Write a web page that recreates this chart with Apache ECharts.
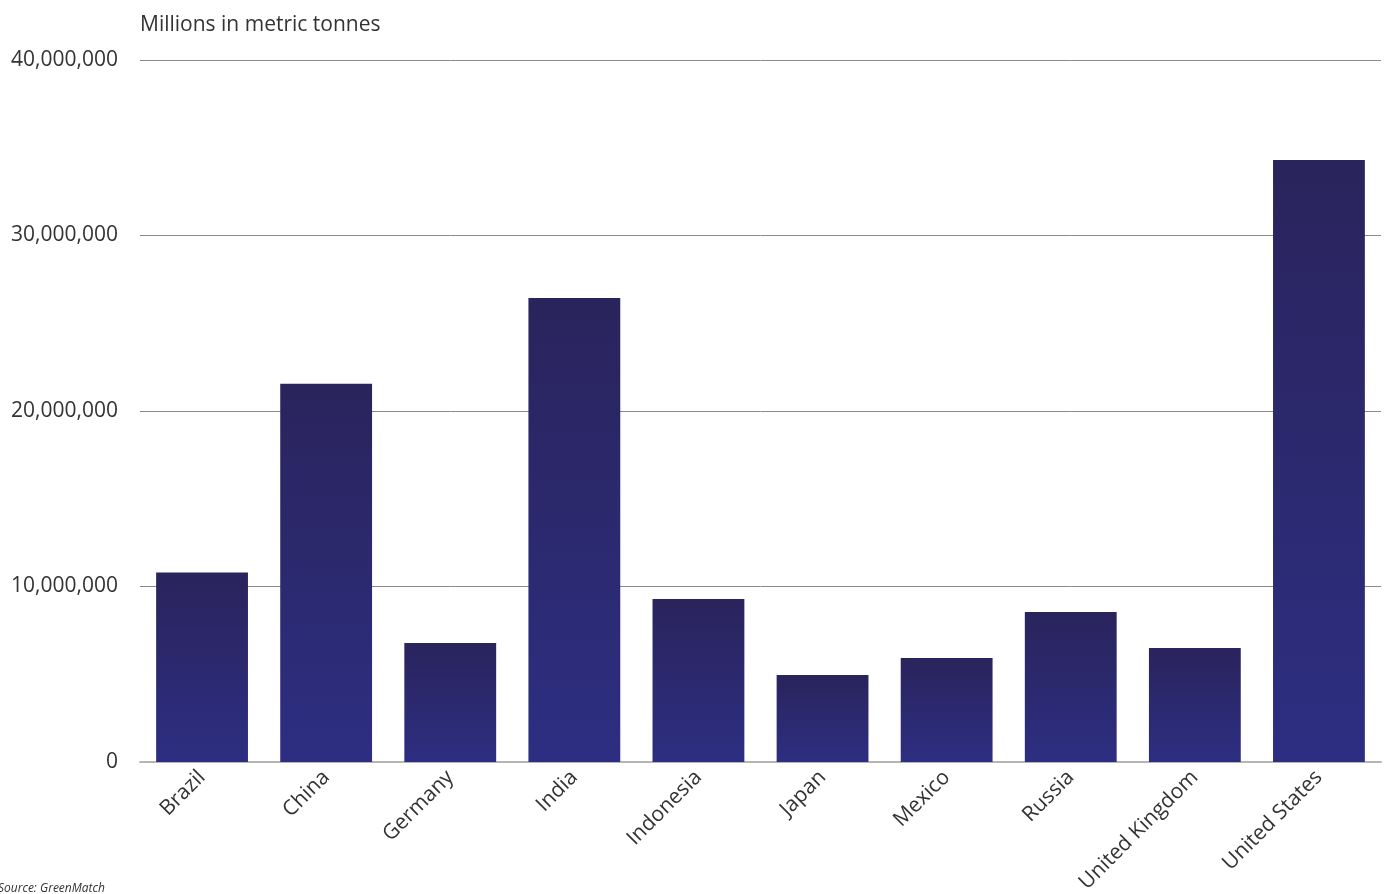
<!DOCTYPE html>
<html>
<head>
<meta charset="utf-8">
<script src="https://cdn.jsdelivr.net/npm/echarts@6/dist/echarts.min.js"></script>
<style>
html,body{margin:0;padding:0;background:#fff;}
#chart{width:1391px;height:894px;}
</style>
</head>
<body>
<div id="chart"></div>
<script>
const categories = ["Brazil","China","Germany","India","Indonesia","Japan","Mexico","Russia","United Kingdom","United States"];
const values = [10800000, 21550000, 6780000, 26440000, 9290000, 4960000, 5930000, 8550000, 6500000, 34300000];
const yTicks = [0, 10000000, 20000000, 30000000, 40000000];

const chart = echarts.init(document.getElementById('chart'));
const font = "'Open Sans', 'Noto Sans', sans-serif";
chart.setOption({
  animation: false,
  textStyle: { fontFamily: font },
  graphic: [
    { type: 'text', left: 140, top: 15, style: { text: 'Millions in metric tonnes', font: '21px ' + font, fill: '#333' } },
    { type: 'text', left: -2, top: 883, style: { text: 'Source: GreenMatch', font: 'italic 12px ' + font, fill: '#333' } }
  ],
  grid: { left: 140, right: 10, top: 60, bottom: 132, containLabel: false, outerBoundsMode: 'none' },
  xAxis: {
    type: 'category',
    data: categories,
    axisLine: { show: true, lineStyle: { color: '#b5b5b5', width: 2 } },
    axisTick: { show: false },
    axisLabel: { rotate: 45, margin: 12, fontSize: 21, color: '#333', fontFamily: font, interval: 0 }
  },
  yAxis: {
    type: 'value',
    min: yTicks[0],
    max: yTicks[yTicks.length - 1],
    interval: yTicks[1] - yTicks[0],
    axisLine: { show: false },
    axisTick: { show: false },
    splitLine: { lineStyle: { color: '#8a8a8a', width: 1 } },
    axisLabel: {
      margin: 22, fontSize: 21, color: '#333', fontFamily: font,
      formatter: v => v.toLocaleString('en-US')
    }
  },
  series: [{
    type: 'bar',
    data: values,
    barCategoryGap: '26%',
    itemStyle: {
      color: new echarts.graphic.LinearGradient(0, 0, 0, 1, [
        { offset: 0, color: '#2a245c' },
        { offset: 1, color: '#2d2e82' }
      ])
    }
  }]
});
</script>
</body>
</html>
